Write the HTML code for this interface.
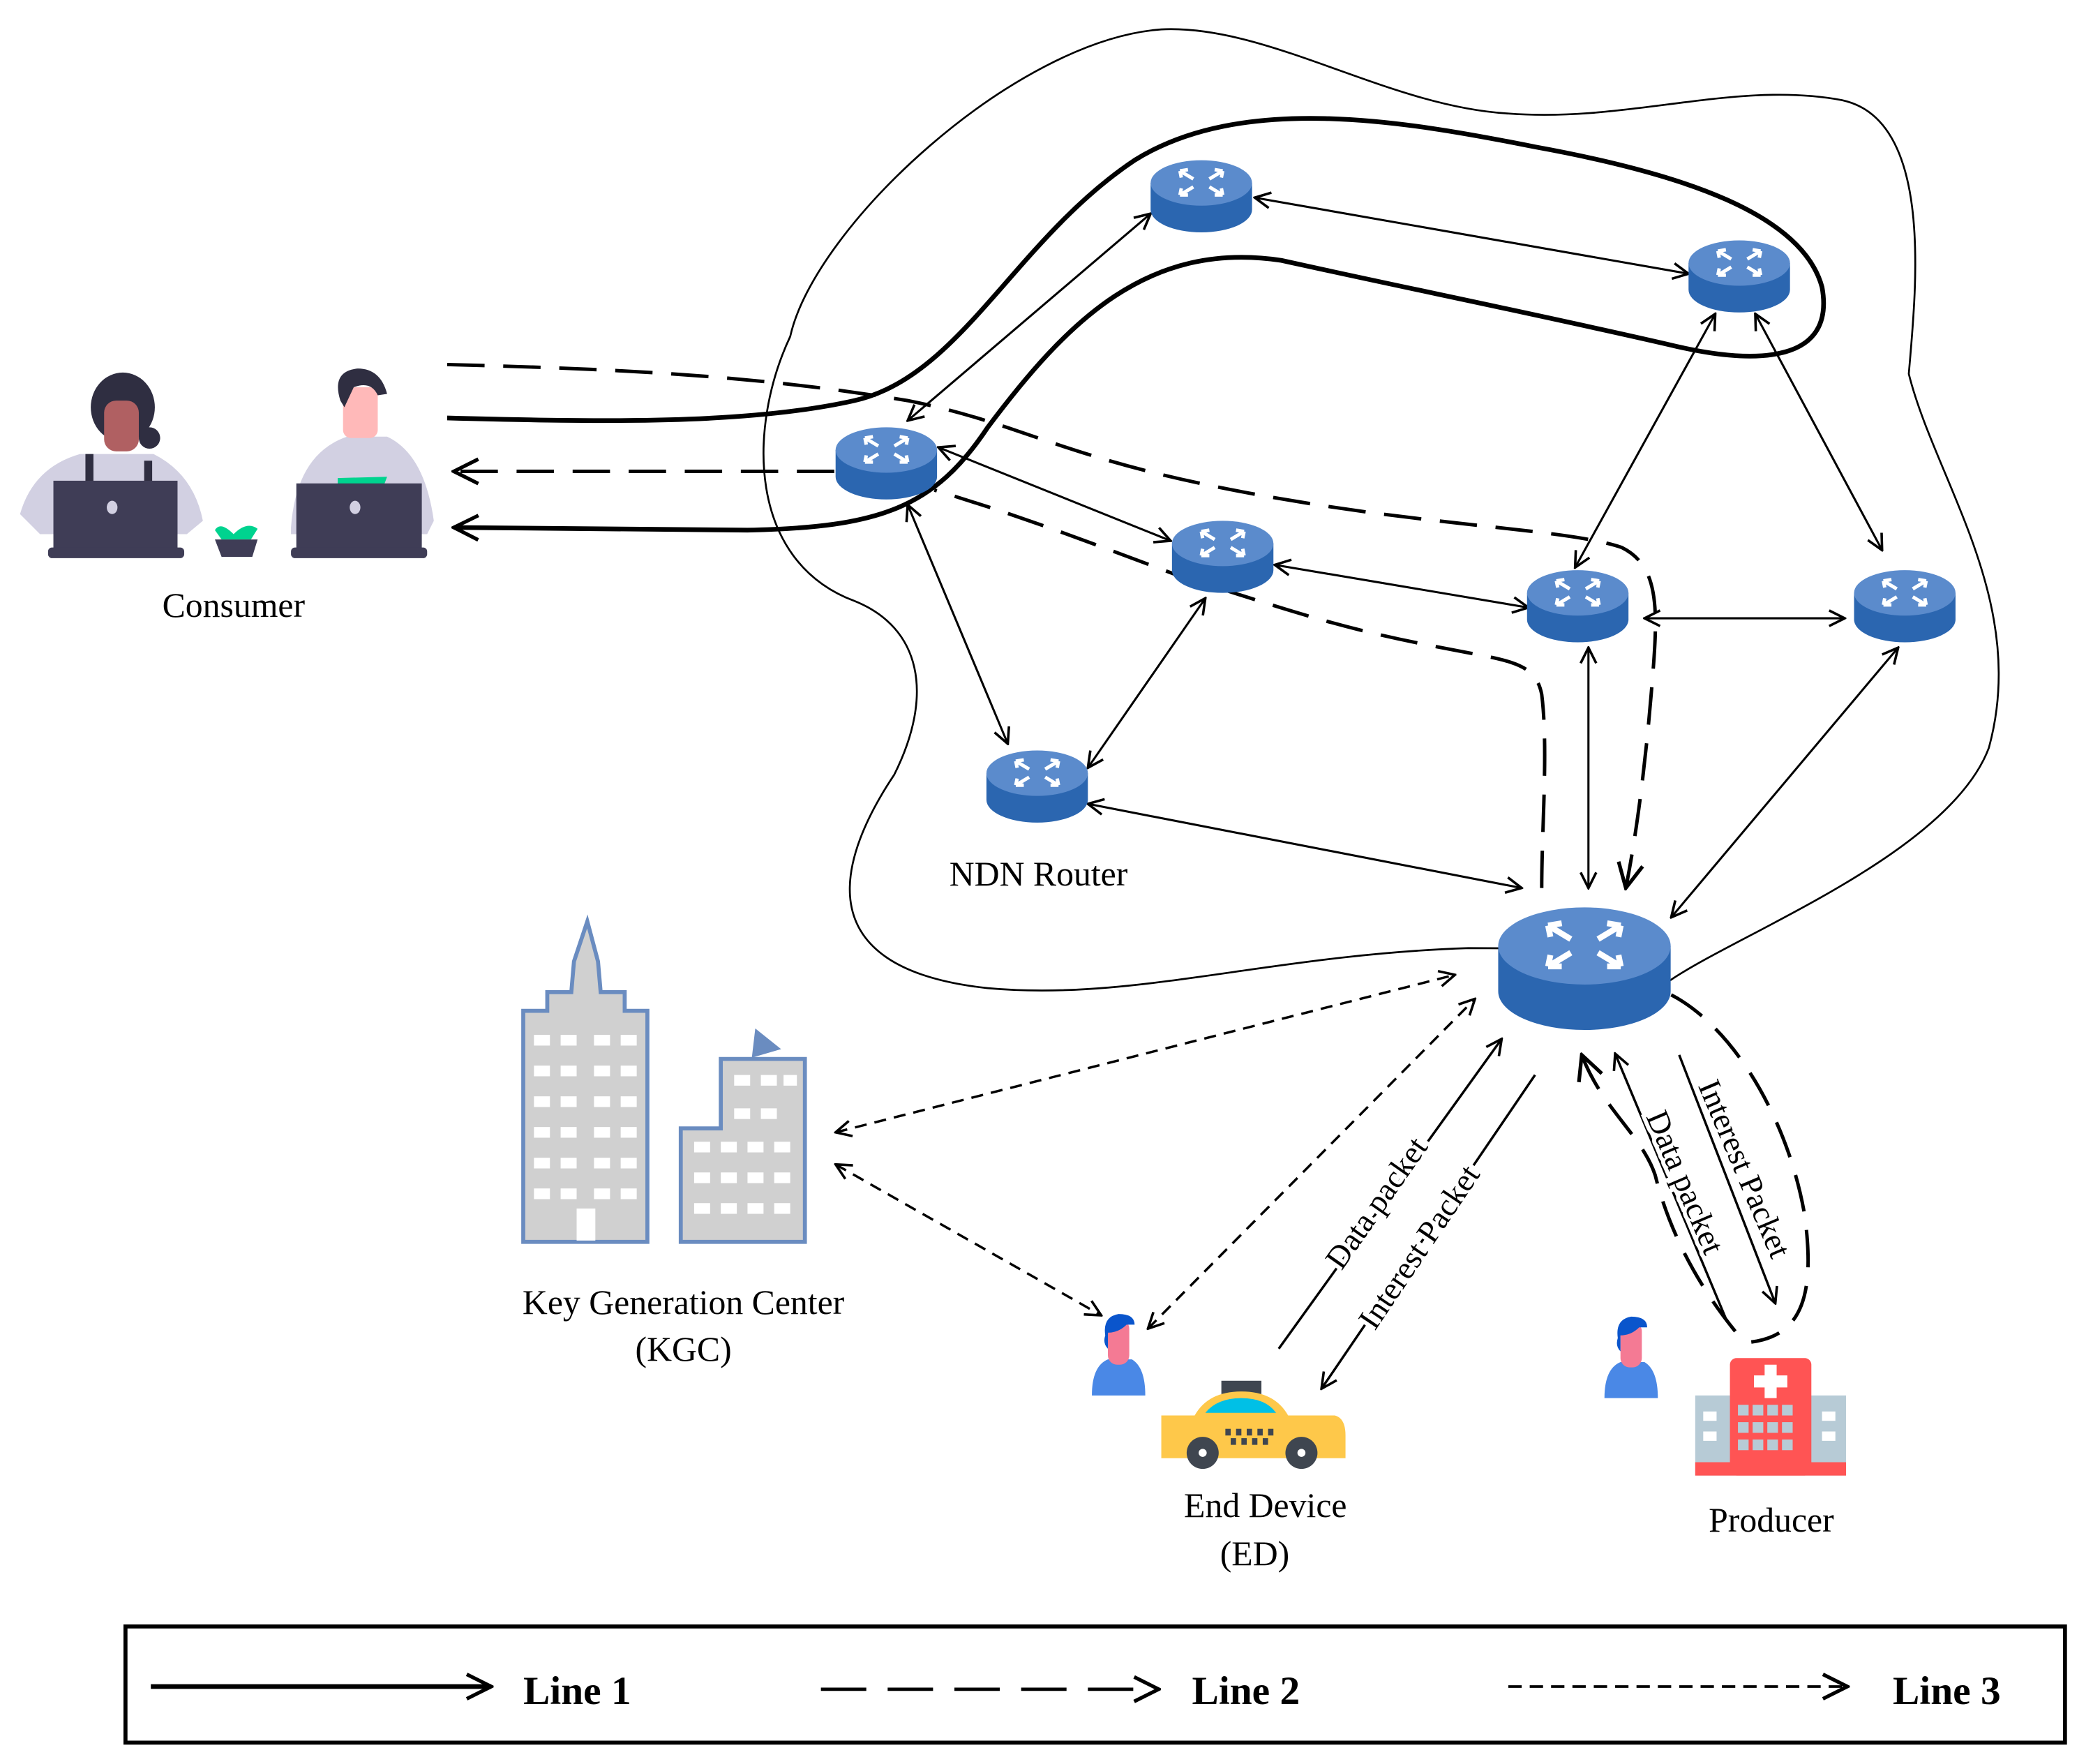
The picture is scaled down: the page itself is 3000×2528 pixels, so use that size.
<!DOCTYPE html>
<html><head><meta charset="utf-8"><style>html,body{margin:0;padding:0;background:#fff}svg{display:block}</style></head>
<body>
<svg width="3000" height="2528" viewBox="0 0 1568 1321" preserveAspectRatio="none" xmlns="http://www.w3.org/2000/svg" font-family="Liberation Serif, serif">
<defs>
<marker id="a" viewBox="0 0 12 12" refX="11" refY="6" markerWidth="14" markerHeight="14" markerUnits="userSpaceOnUse" orient="auto-start-reverse"><path d="M1,1 L11,6 L1,11" fill="none" stroke="#000" stroke-width="1.6"/></marker>
<marker id="b" viewBox="0 0 12 12" refX="11" refY="6" markerWidth="22" markerHeight="22" markerUnits="userSpaceOnUse" orient="auto-start-reverse"><path d="M1,1 L11,6 L1,11" fill="none" stroke="#000" stroke-width="1.5"/></marker>
<g id="rt">
<path d="M-38,-8 L-38,12 A38,17 0 0 0 38,12 L38,-8 Z" fill="#2b66b0"/>
<ellipse cx="0" cy="-8" rx="38" ry="17" fill="#5b8bcc"/>
<g stroke="#fff" stroke-width="2.6" fill="none">
<path d="M-6,-11 L-16,-17 M-16,-17 L-10,-18 M-16,-17 L-15,-12"/>
<path d="M6,-11 L16,-17 M16,-17 L10,-18 M16,-17 L15,-12"/>
<path d="M-6,-5 L-16,1 M-16,1 L-10,1 M-16,1 L-15,-4"/>
<path d="M6,-5 L16,1 M16,1 L10,1 M16,1 L15,-4"/>
</g>
</g>
<g id="person">
<path d="M-20,27 Q-20,5 -8,0 L10,0 Q20,6 20,27 Z" fill="#4a88e6"/>
<rect x="-8" y="-30" width="16" height="34" rx="7" fill="#f47a94"/>
<path d="M-10,-18 Q-12,-32 0,-34 Q12,-34 12,-26 L6,-26 Q0,-20 -8,-20 L-8,-8 Q-12,-12 -10,-18Z" fill="#0a55cc"/>
</g>
</defs>

<path d="M592,252 C610,170 760,30 870,22 C950,18 1040,80 1130,85 C1220,92 1300,60 1380,75 C1450,90 1435,220 1430,280 C1450,360 1520,450 1490,560 C1460,640 1300,700 1250,735 C1230,710 1150,710 1100,710 C950,715 850,750 740,740 C600,725 630,640 670,580 C700,520 690,470 640,450 C560,420 560,320 592,252 Z" fill="none" stroke="#000" stroke-width="1.4"/>

<path d="M335,313 C450,316 560,318 640,300 C720,282 760,180 850,120 C930,70 1050,90 1150,110 C1260,130 1350,160 1365,215 C1375,270 1320,275 1250,258 C1150,235 1050,215 960,195 C860,180 800,240 740,320 C700,380 660,395 560,397 L340,395" fill="none" stroke="#000" stroke-width="3.5" marker-end="url(#b)"/>

<g fill="none" stroke="#000" stroke-width="2.6" stroke-dasharray="28,14">
<path d="M335,273 C450,276 560,280 680,300 C780,320 800,350 1000,380 C1100,395 1180,398 1215,410 C1245,425 1242,460 1237,520 C1232,580 1225,630 1218,665" marker-end="url(#b)"/>
<path d="M1155,665 C1155,620 1160,560 1155,520 C1150,495 1130,495 1080,485 C1000,470 960,455 880,430 C800,400 760,385 700,367"/>
<path d="M625,353 L340,353" marker-end="url(#b)"/>
<path d="M1252,745 C1300,770 1340,840 1352,910 C1360,970 1350,1000 1312,1005"/>
<path d="M1300,997 C1270,960 1250,920 1240,880 C1230,850 1200,830 1185,790" marker-end="url(#b)"/>
</g>

<g fill="none" stroke="#000" stroke-width="1.6" marker-start="url(#a)" marker-end="url(#a)">
<line x1="940" y1="148" x2="1265" y2="205"/>
<line x1="862" y1="160" x2="680" y2="315"/>
<line x1="1285" y1="235" x2="1180" y2="425"/>
<line x1="1315" y1="235" x2="1410" y2="412"/>
<line x1="703" y1="335" x2="877" y2="405"/>
<line x1="680" y1="378" x2="755" y2="557"/>
<line x1="955" y1="423" x2="1145" y2="455"/>
<line x1="903" y1="448" x2="815" y2="575"/>
<line x1="1232" y1="463" x2="1382" y2="463"/>
<line x1="1190" y1="485" x2="1190" y2="665"/>
<line x1="1422" y1="485" x2="1252" y2="687"/>
<line x1="815" y1="602" x2="1140" y2="665"/>
</g>

<g fill="none" stroke="#000" stroke-width="1.8" stroke-dasharray="9,6" marker-start="url(#a)" marker-end="url(#a)">
<line x1="626" y1="848" x2="1090" y2="730"/>
<line x1="626" y1="872" x2="825" y2="985"/>
<line x1="860" y1="995" x2="1105" y2="748"/>
</g>

<g fill="none" stroke="#000" stroke-width="1.8">
<line x1="958" y1="1010" x2="1125" y2="778" marker-end="url(#a)"/>
<line x1="1150" y1="805" x2="990" y2="1040" marker-end="url(#a)"/>
<line x1="1294" y1="990" x2="1210" y2="789" marker-end="url(#a)"/>
<line x1="1258" y1="790" x2="1330" y2="976" marker-end="url(#a)"/>
</g>
<g font-size="24" fill="#000">
<text transform="translate(1005,952) rotate(-55)" style="paint-order:stroke" stroke="#fff" stroke-width="6">Data packet</text>
<text transform="translate(1030,997) rotate(-56)" style="paint-order:stroke" stroke="#fff" stroke-width="6">Interest Packet</text>
<text transform="translate(1233,836) rotate(67)" style="paint-order:stroke" stroke="#fff" stroke-width="6">Data packet</text>
<text transform="translate(1272,813) rotate(67)" style="paint-order:stroke" stroke="#fff" stroke-width="6">Interest Packet</text>
</g>

<use href="#rt" x="900" y="145"/>
<use href="#rt" x="1303" y="205"/>
<use href="#rt" x="664" y="345"/>
<use href="#rt" x="916" y="415"/>
<use href="#rt" x="1182" y="452"/>
<use href="#rt" x="1427" y="452"/>
<use href="#rt" x="777" y="587"/>
<use href="#rt" transform="translate(1187,722) scale(1.7)"/>

<g>
<path d="M15,385 Q25,350 60,340 L115,340 Q145,355 152,390 L140,400 L30,400 Z" fill="#d2d0e2"/>
<rect x="64" y="340" width="6" height="28" fill="#2f2e41"/><rect x="108" y="345" width="6" height="25" fill="#2f2e41"/>
<ellipse cx="92" cy="305" rx="24" ry="26" fill="#2f2e41"/>
<rect x="78" y="300" width="26" height="38" rx="9" fill="#b06062"/>
<circle cx="112" cy="328" r="8" fill="#2f2e41"/>
<rect x="40" y="360" width="93" height="55" fill="#3f3d56"/><rect x="36" y="410" width="102" height="8" rx="3" fill="#3f3d56"/>
<ellipse cx="84" cy="380" rx="4" ry="5" fill="#d2d0e2"/>
<path d="M161,397 Q165,390 175,400 Q185,390 193,396 L188,404 L166,404 Z" fill="#00d38f"/>
<path d="M161,404 L193,404 L189,417 L166,417 Z" fill="#3f3d56"/>
<path d="M218,395 Q222,340 260,327 L290,327 Q318,340 325,390 L320,400 L218,400 Z" fill="#d2d0e2"/>
<rect x="257" y="290" width="26" height="38" rx="6" fill="#ffb9b9"/>
<path d="M255,300 Q248,278 268,276 Q285,276 290,295 L283,296 Q278,285 265,290 L258,305 Z" fill="#2f2e41"/>
<path d="M253,358 L290,357 L287,365 L253,365Z" fill="#00d38f"/>
<rect x="222" y="362" width="94" height="53" fill="#3f3d56"/><rect x="218" y="410" width="102" height="8" rx="3" fill="#3f3d56"/>
<ellipse cx="266" cy="380" rx="4" ry="5" fill="#d2d0e2"/>
</g>

<g stroke="#6a8cc0" stroke-width="3">
<path d="M392,930 L392,757 L410,757 L410,743 L428,743 L430,720 L440,690 L448,720 L450,743 L468,743 L468,757 L485,757 L485,930 Z" fill="#d0d0d0"/>
<path d="M510,930 L510,845 L540,845 L540,793 L603,793 L603,930 Z" fill="#d0d0d0"/>
<path d="M565,790 L567,773 L582,785 Z" fill="#6a8cc0"/>
</g>
<g fill="#fff">
<rect x="400" y="775" width="12" height="8"/><rect x="420" y="775" width="12" height="8"/><rect x="445" y="775" width="12" height="8"/><rect x="465" y="775" width="12" height="8"/>
<rect x="400" y="798" width="12" height="8"/><rect x="420" y="798" width="12" height="8"/><rect x="445" y="798" width="12" height="8"/><rect x="465" y="798" width="12" height="8"/>
<rect x="400" y="821" width="12" height="8"/><rect x="420" y="821" width="12" height="8"/><rect x="445" y="821" width="12" height="8"/><rect x="465" y="821" width="12" height="8"/>
<rect x="400" y="844" width="12" height="8"/><rect x="420" y="844" width="12" height="8"/><rect x="445" y="844" width="12" height="8"/><rect x="465" y="844" width="12" height="8"/>
<rect x="400" y="867" width="12" height="8"/><rect x="420" y="867" width="12" height="8"/><rect x="445" y="867" width="12" height="8"/><rect x="465" y="867" width="12" height="8"/>
<rect x="400" y="890" width="12" height="8"/><rect x="420" y="890" width="12" height="8"/><rect x="445" y="890" width="12" height="8"/><rect x="465" y="890" width="12" height="8"/>
<rect x="432" y="905" width="14" height="24"/>
<rect x="550" y="805" width="12" height="8"/><rect x="570" y="805" width="12" height="8"/><rect x="587" y="805" width="10" height="8"/>
<rect x="520" y="855" width="12" height="8"/><rect x="540" y="855" width="12" height="8"/><rect x="560" y="855" width="12" height="8"/><rect x="580" y="855" width="12" height="8"/>
<rect x="520" y="878" width="12" height="8"/><rect x="540" y="878" width="12" height="8"/><rect x="560" y="878" width="12" height="8"/><rect x="580" y="878" width="12" height="8"/>
<rect x="520" y="901" width="12" height="8"/><rect x="540" y="901" width="12" height="8"/><rect x="560" y="901" width="12" height="8"/><rect x="580" y="901" width="12" height="8"/>
<rect x="550" y="830" width="12" height="8"/><rect x="570" y="830" width="12" height="8"/>
</g>

<use href="#person" x="838" y="1018"/>
<use href="#person" x="1222" y="1020"/>

<g>
<rect x="915" y="1034" width="30" height="10" fill="#3f4650"/>
<path d="M895,1060 Q905,1042 930,1042 Q955,1042 965,1060 Z" fill="#fec84a"/>
<path d="M903,1058 Q912,1047 930,1047 Q948,1047 956,1058 Z" fill="#00c0e6"/>
<path d="M870,1060 L1000,1060 Q1008,1062 1008,1075 L1008,1092 L870,1092 Z" fill="#fec84a"/>
<circle cx="901" cy="1088" r="12" fill="#3f4650"/><circle cx="975" cy="1088" r="12" fill="#3f4650"/>
<circle cx="901" cy="1088" r="3" fill="#fff"/><circle cx="975" cy="1088" r="3" fill="#fff"/>
<g fill="#3f4650"><rect x="918" y="1070" width="4" height="5"/><rect x="926" y="1070" width="4" height="5"/><rect x="934" y="1070" width="4" height="5"/><rect x="942" y="1070" width="4" height="5"/><rect x="950" y="1070" width="4" height="5"/><rect x="922" y="1077" width="4" height="5"/><rect x="930" y="1077" width="4" height="5"/><rect x="938" y="1077" width="4" height="5"/><rect x="946" y="1077" width="4" height="5"/></g>
</g>

<g>
<rect x="1270" y="1045" width="113" height="60" fill="#b7cbd6"/>
<rect x="1296" y="1017" width="61" height="88" rx="5" fill="#ff5454"/>
<rect x="1270" y="1095" width="113" height="10" fill="#ff5454"/>
<path d="M1322,1022 h9 v8 h8 v9 h-8 v8 h-9 v-8 h-8 v-9 h8 Z" fill="#fff"/>
<g fill="#b7cbd6">
<rect x="1302" y="1052" width="8" height="8"/><rect x="1313" y="1052" width="8" height="8"/><rect x="1324" y="1052" width="8" height="8"/><rect x="1335" y="1052" width="8" height="8"/>
<rect x="1302" y="1065" width="8" height="8"/><rect x="1313" y="1065" width="8" height="8"/><rect x="1324" y="1065" width="8" height="8"/><rect x="1335" y="1065" width="8" height="8"/>
<rect x="1302" y="1078" width="8" height="8"/><rect x="1313" y="1078" width="8" height="8"/><rect x="1324" y="1078" width="8" height="8"/><rect x="1335" y="1078" width="8" height="8"/>
</g>
<g fill="#fff"><rect x="1276" y="1057" width="10" height="7"/><rect x="1276" y="1072" width="10" height="7"/><rect x="1365" y="1057" width="10" height="7"/><rect x="1365" y="1072" width="10" height="7"/></g>
</g>

<g font-size="26" fill="#000" text-anchor="middle">
<text x="175" y="462">Consumer</text>
<text x="778" y="663">NDN Router</text>
<text x="512" y="984">Key Generation Center</text>
<text x="512" y="1019">(KGC)</text>
<text x="948" y="1136">End Device</text>
<text x="940" y="1172">(ED)</text>
<text x="1327" y="1147">Producer</text>
</g>

<rect x="94" y="1218" width="1453" height="87" fill="none" stroke="#000" stroke-width="3"/>
<line x1="113" y1="1263" x2="368" y2="1263" stroke="#000" stroke-width="3.5" marker-end="url(#b)"/>
<line x1="615" y1="1265" x2="868" y2="1265" stroke="#000" stroke-width="2.5" stroke-dasharray="34,16" marker-end="url(#b)"/>
<line x1="1130" y1="1263" x2="1384" y2="1263" stroke="#000" stroke-width="2" stroke-dasharray="10,6" marker-end="url(#b)"/>
<g font-size="30" font-weight="bold" fill="#000">
<text x="392" y="1276">Line 1</text>
<text x="893" y="1276">Line 2</text>
<text x="1418" y="1276">Line 3</text>
</g>
</svg>
</body></html>
